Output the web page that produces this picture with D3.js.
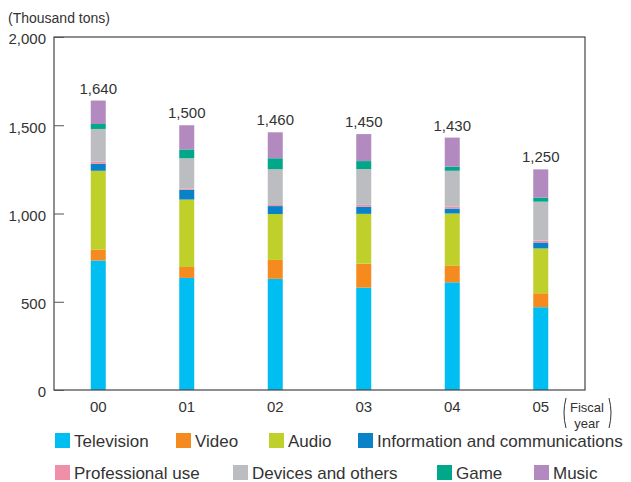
<!DOCTYPE html>
<html><head><meta charset="utf-8">
<script src="https://cdn.jsdelivr.net/npm/d3@7"></script>
<style>body{margin:0;background:#fff}svg{display:block}text{font-family:"Liberation Sans",Arial,sans-serif;fill:#333}</style>
</head><body><svg id="c" width="631" height="482"></svg>
<script>
const years = ["00","01","02","03","04","05"];
const totals = [1640,1500,1460,1450,1430,1250];
const seriesNames = ["Television","Video","Audio","Information and communications","Professional use","Devices and others","Game","Music"];
const seriesColors = ["#00bdf2","#f58a1f","#bfd02b","#0a82c8","#f08fa8","#bcbdc0","#00a88a","#b28abf"];
const television = [734,635,630,580,610,469];
const video = [62,62,107,136,96,79];
const audio = [446,382,260,282,294,254];
const infoComm = [40,55,45,40,28,34];
const professional = [11,6,6,11,11,11];
const devices = [186,173,203,203,203,220];
const game = [28,50,62,45,23,23];
const music = [133,137,147,153,165,160];
const yTicks = [0,500,1000,1500,2000];

const seriesValues = [television,video,audio,infoComm,professional,devices,game,music];
const rows = years.map((y,i)=>{const r={year:y}; seriesNames.forEach((n,k)=>r[n]=seriesValues[k][i]); return r;});
const stack = d3.stack().keys(seriesNames)(rows);

const svg = d3.select("#c");
const L=54,R=585,T=37,B=390;
const x = d3.scaleBand().domain(years).range([L,R]);
const y = d3.scaleLinear().domain([0,2000]).range([B,T]);
const bw=15;

svg.append("g").selectAll("g").data(stack).join("g").attr("fill",(d,i)=>seriesColors[i])
 .selectAll("rect").data(d=>d).join("rect")
 .attr("x",d=>x(d.data.year)+x.bandwidth()/2-bw/2).attr("width",bw)
 .attr("y",d=>y(d[1])).attr("height",d=>y(d[0])-y(d[1]));

svg.append("rect").attr("x",L).attr("y",T).attr("width",R-L).attr("height",B-T)
 .attr("fill","none").attr("stroke","#444").attr("stroke-width",1.2);

const ya = d3.axisLeft(y).tickValues(yTicks).tickSize(-10).tickPadding(20).tickFormat(d3.format(","));
const gy = svg.append("g").attr("transform",`translate(${L},0)`).call(ya);
gy.select(".domain").remove();
gy.selectAll(".tick line").attr("stroke","#555");
gy.selectAll(".tick text").attr("font-size",15).style("fill","#333").attr("x",-8).attr("dy","0.45em");

const xa = d3.axisBottom(x).tickSize(0).tickPadding(11);
const gx = svg.append("g").attr("transform",`translate(0,${B})`).call(xa);
gx.select(".domain").remove();
gx.selectAll(".tick text").attr("font-size",15).style("fill","#333");

svg.append("g").selectAll("text").data(years).join("text")
 .attr("x",d=>x(d)+x.bandwidth()/2).attr("y",(d,i)=>y(d3.sum(seriesValues,s=>s[i]))-7)
 .attr("text-anchor","middle").attr("font-size",15).text((d,i)=>d3.format(",")(totals[i]));

svg.append("text").attr("x",8).attr("y",23).attr("font-size",14).text("(Thousand tons)");

const fy = svg.append("g");
fy.append("text").attr("x",587).attr("y",412).attr("text-anchor","middle").attr("font-size",13).text("Fiscal");
fy.append("text").attr("x",587).attr("y",428).attr("text-anchor","middle").attr("font-size",13).text("year");
fy.append("path").attr("d","M566,398 Q562,413 566,428").attr("fill","none").attr("stroke","#333");
fy.append("path").attr("d","M609,398 Q613,413 609,428").attr("fill","none").attr("stroke","#333");

const legPos = [[55,441],[176,441],[269,441],[358,441],[55,473],[233,473],[437,473],[534,473]];
const lg = svg.append("g").selectAll("g").data(seriesNames).join("g")
 .attr("transform",(d,i)=>`translate(${legPos[i][0]},${legPos[i][1]})`);
lg.append("rect").attr("x",0).attr("y",-8).attr("width",15).attr("height",15).attr("fill",(d,i)=>seriesColors[i]);
lg.append("text").attr("x",19).attr("y",6).attr("font-size",17).text(d=>d);
</script></body></html>
